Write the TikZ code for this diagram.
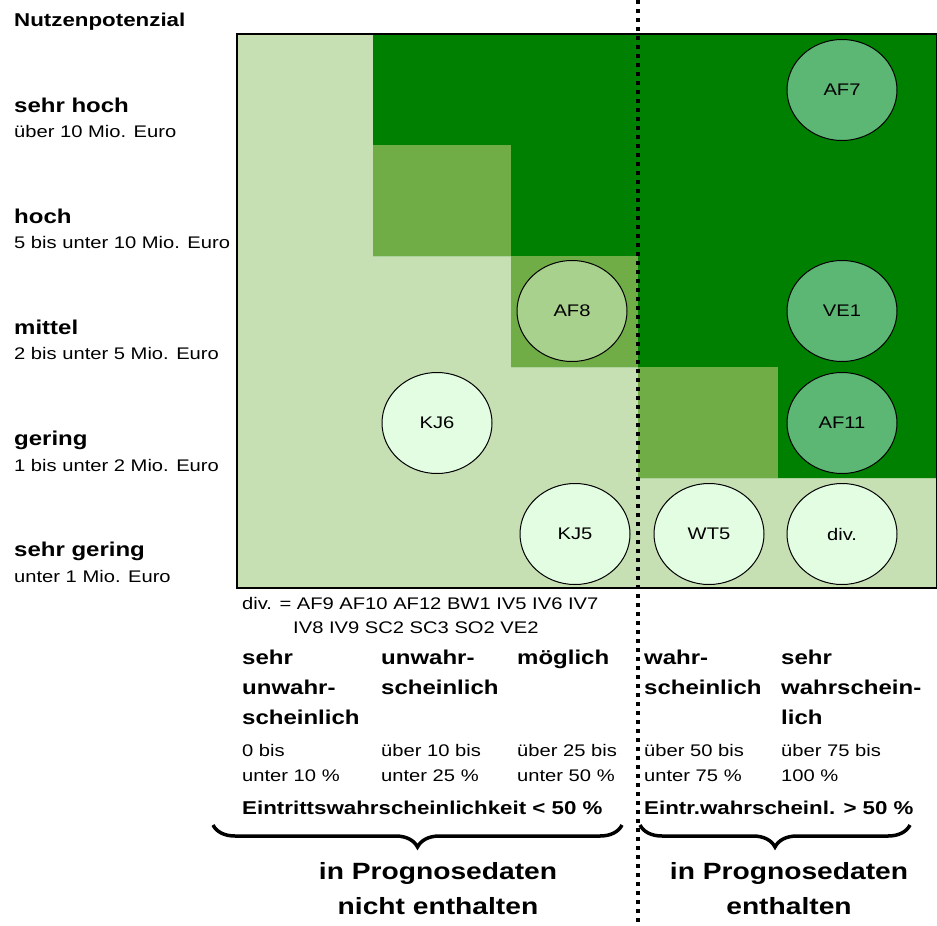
\documentclass[tikz,border=0pt]{standalone}
\usepackage{fontspec}
\setmainfont[FakeStretch=1.2]{Liberation Sans}
\usetikzlibrary{shapes.geometric,decorations.pathreplacing}

\definecolor{hellgruen}{RGB}{198,224,180}
\definecolor{dunkelgruen}{RGB}{0,128,0}
\definecolor{mittelgruen}{RGB}{112,173,71}
\definecolor{blassgruen}{RGB}{227,253,227}
\definecolor{afgruen}{RGB}{169,209,142}
\definecolor{topgruen}{RGB}{92,182,116}

\tikzset{
  projekt/.style={ellipse,draw,line width=1,minimum width=110,minimum height=101,inner sep=0,font=\fontsize{16.8}{20}\selectfont},
  stufe/.style={anchor=base west,inner sep=0,font=\bfseries\fontsize{20}{24}\selectfont},
  betrag/.style={anchor=base west,inner sep=0,font=\fontsize{16.8}{20}\selectfont},
  spalte/.style={anchor=north west,inner sep=0,align=left,font=\bfseries\fontsize{20}{30}\selectfont},
  prozent/.style={anchor=north west,inner sep=0,align=left,font=\fontsize{16.8}{25}\selectfont},
  summe/.style={anchor=base west,inner sep=0,font=\bfseries\fontsize{18.6}{22}\selectfont},
  fazit/.style={anchor=north,inner sep=0,align=center,font=\bfseries\fontsize{23.5}{35}\selectfont},
  klammer/.style={decorate,decoration={brace,mirror,amplitude=22},line width=3.5},
}

\begin{document}
\begin{tikzpicture}[x=1pt,y=-1pt]
\useasboundingbox (0,0) rectangle (937,926);
% Felder
\fill[hellgruen](237,34) rectangle (937,588);
\fill[dunkelgruen](373,34)--(937,34)--(937,478)--(638,478)--(638,367)--(511,367)--(511,256)--(373,256)--cycle;
\fill[mittelgruen](373,145) rectangle (511,256);
\fill[mittelgruen](511,256) rectangle (638,367);
\fill[mittelgruen](638,367) rectangle (778,478);
\draw[line width=2](237,34) rectangle (937,588);

% Projekte
\node[projekt,fill=topgruen] (af7) at (842,90){AF7};
\node[projekt,fill=topgruen] (ve1) at (842,311){VE1};
\node[projekt,fill=topgruen] (af11) at (842,423){AF11};
\node[projekt,fill=afgruen] (af8) at (572,311){AF8};
\node[projekt,fill=blassgruen] (kj6) at (437,423){KJ6};
\node[projekt,fill=blassgruen] (kj5) at (575,534){KJ5};
\node[projekt,fill=blassgruen] (wt5) at (709,534){WT5};
\node[projekt,fill=blassgruen] (div) at (842,534){div.};

% Nutzenpotenzial
\node[summe] (titel) at (14,27){Nutzenpotenzial};
\node[stufe] (s1) at (14,112){sehr hoch};
\node[betrag] (b1) at (14,137){über 10 Mio. Euro};
\node[stufe] (s2) at (14,223){hoch};
\node[betrag] (b2) at (14,248){5 bis unter 10 Mio. Euro};
\node[stufe] (s3) at (14,334){mittel};
\node[betrag] (b3) at (14,359){2 bis unter 5 Mio. Euro};
\node[stufe] (s4) at (14,445){gering};
\node[betrag] (b4) at (14,471){1 bis unter 2 Mio. Euro};
\node[stufe] (s5) at (14,556){sehr gering};
\node[betrag] (b5) at (14,582){unter 1 Mio. Euro};

% Eintrittswahrscheinlichkeit
\node[betrag] (div1) at (242,609){div. = AF9 AF10 AF12 BW1 IV5 IV6 IV7};
\node[betrag] (div2) at (293,633){IV8 IV9 SC2 SC3 SO2 VE2};
\node[spalte] (k1) at (242,650){sehr\\unwahr-\\scheinlich};
\node[spalte] (k2) at (381,650){unwahr-\\scheinlich};
\node[spalte] (k3) at (517,650){möglich};
\node[spalte] (k4) at (644,650){wahr-\\scheinlich};
\node[spalte] (k5) at (781,650){sehr\\wahrschein-\\lich};
\node[prozent] (p1) at (242,744){0 bis\\unter 10 \%};
\node[prozent] (p2) at (381,744){über 10 bis\\unter 25 \%};
\node[prozent] (p3) at (517,744){über 25 bis\\unter 50 \%};
\node[prozent] (p4) at (644,744){über 50 bis\\unter 75 \%};
\node[prozent] (p5) at (781,744){über 75 bis\\100 \%};
\node[summe] (e1) at (242,814){Eintrittswahrscheinlichkeit < 50 \%};
\node[summe] (e2) at (644,814){Eintr.wahrscheinl. > 50 \%};

% Klammern
\draw[klammer](213,825)--(622,825);
\draw[klammer](640,825)--(910,825);
\node[fazit] (f1) at (438,862){in Prognosedaten\\nicht enthalten};
\node[fazit] (f2) at (789,862){in Prognosedaten\\enthalten};

\draw[line width=4,dash pattern=on 4 off 5](638,0)--(638,926);
\end{tikzpicture}
\end{document}
